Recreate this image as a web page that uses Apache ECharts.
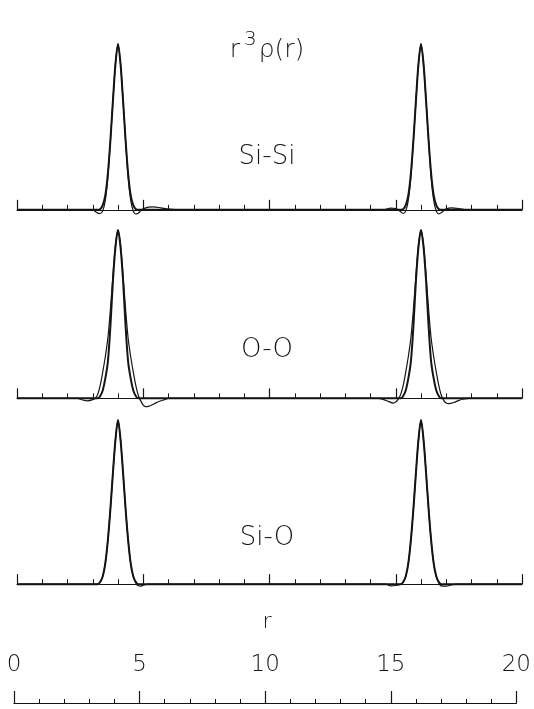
<!DOCTYPE html>
<html>
	<head>
		<meta charset="UTF-8">
		<title>r3 rho(r)</title>
		<script src="https://cdn.jsdelivr.net/npm/echarts/dist/echarts.min.js" type="text/javascript" charset="utf-8"></script>
	</head>
	<body style="margin:0;background:#fff;">
		<div id="chart" style="width:534px;height:709px;"></div>
		<script type="text/javascript">
			// panel names and the r scale labels
			var panelNames = ['Si-Si', 'O-O', 'Si-O'];
			var scaleTicks = [0, 5, 10, 15, 20];

			// Si-Si : smooth curve and the curve with the truncation ripples
			var siSiA = [[0,0],[3.2,0],[3.3,0.005],[3.4,0.03],[3.5,0.09],[3.6,0.22],[3.7,0.42],[3.8,0.66],[3.9,0.88],[4.0,1.0],[4.1,0.88],[4.2,0.66],[4.3,0.42],[4.4,0.22],[4.5,0.09],[4.6,0.03],[4.7,0.005],[4.8,0],
				[15.2,0],[15.3,0.005],[15.4,0.03],[15.5,0.09],[15.6,0.22],[15.7,0.42],[15.8,0.66],[15.9,0.88],[16.0,1.0],[16.1,0.88],[16.2,0.66],[16.3,0.42],[16.4,0.22],[16.5,0.09],[16.6,0.03],[16.7,0.005],[16.8,0],[20,0]];
			var siSiB = [[0,0],[3.0,0],[3.1,-0.01],[3.2,-0.02],[3.3,-0.022],[3.4,-0.005],[3.5,0.06],[3.6,0.2],[3.7,0.42],[3.8,0.66],[3.9,0.88],[4.0,1.0],[4.1,0.88],[4.2,0.66],[4.3,0.42],[4.4,0.2],[4.5,0.06],[4.6,-0.005],[4.7,-0.025],[4.8,-0.02],[4.9,-0.006],[5.0,0.006],[5.2,0.016],[5.4,0.018],[5.7,0.012],[6.0,0.005],[6.4,0],
				[14.5,0],[14.8,0.01],[15.0,0.008],[15.1,0],[15.2,-0.012],[15.3,-0.022],[15.4,-0.005],[15.5,0.06],[15.6,0.2],[15.7,0.42],[15.8,0.66],[15.9,0.88],[16.0,1.0],[16.1,0.88],[16.2,0.66],[16.3,0.42],[16.4,0.2],[16.5,0.06],[16.6,-0.005],[16.7,-0.024],[16.8,-0.018],[16.9,-0.005],[17.0,0.006],[17.2,0.012],[17.5,0.008],[17.8,0],[20,0]];

			// O-O : narrow curve and wide curve
			var ooA = [[0,0],[3.2,0],[3.3,0.015],[3.4,0.05],[3.5,0.12],[3.6,0.22],[3.7,0.43],[3.8,0.7],[3.9,0.9],[4.0,1.0],[4.1,0.9],[4.2,0.7],[4.3,0.43],[4.4,0.22],[4.5,0.12],[4.6,0.05],[4.7,0.015],[4.8,0],
				[15.2,0],[15.3,0.015],[15.4,0.05],[15.5,0.12],[15.6,0.22],[15.7,0.43],[15.8,0.7],[15.9,0.9],[16.0,1.0],[16.1,0.9],[16.2,0.7],[16.3,0.43],[16.4,0.22],[16.5,0.12],[16.6,0.05],[16.7,0.015],[16.8,0],[20,0]];
			var ooB = [[0,0],[2.4,0],[2.6,-0.01],[2.8,-0.015],[3.0,-0.008],[3.1,0],[3.2,0.025],[3.3,0.08],[3.4,0.16],[3.5,0.25],[3.6,0.36],[3.7,0.53],[3.8,0.73],[3.9,0.91],[4.0,1.0],[4.1,0.91],[4.2,0.73],[4.3,0.53],[4.4,0.36],[4.5,0.25],[4.6,0.16],[4.7,0.08],[4.8,0.02],[4.9,-0.015],[5.0,-0.04],[5.1,-0.05],[5.2,-0.048],[5.4,-0.035],[5.6,-0.02],[5.8,-0.01],[6.0,0],
				[14.3,0],[14.5,-0.006],[14.7,-0.018],[14.9,-0.028],[15.0,-0.022],[15.1,-0.005],[15.2,0.025],[15.3,0.08],[15.4,0.16],[15.5,0.25],[15.6,0.36],[15.7,0.53],[15.8,0.73],[15.9,0.91],[16.0,1.0],[16.1,0.91],[16.2,0.73],[16.3,0.53],[16.4,0.36],[16.5,0.25],[16.6,0.16],[16.7,0.08],[16.8,0.02],[16.9,-0.012],[17.0,-0.028],[17.1,-0.032],[17.3,-0.025],[17.5,-0.012],[17.7,-0.004],[17.9,0],[20,0]];

			// Si-O : the two curves nearly coincide
			var siOA = [[0,0],[3.2,0],[3.3,0.015],[3.4,0.05],[3.5,0.13],[3.6,0.27],[3.7,0.46],[3.8,0.68],[3.9,0.88],[4.0,1.0],[4.1,0.88],[4.2,0.68],[4.3,0.46],[4.4,0.27],[4.5,0.13],[4.6,0.05],[4.7,0.015],[4.8,0],
				[15.2,0],[15.3,0.015],[15.4,0.05],[15.5,0.13],[15.6,0.27],[15.7,0.46],[15.8,0.68],[15.9,0.88],[16.0,1.0],[16.1,0.88],[16.2,0.68],[16.3,0.46],[16.4,0.27],[16.5,0.13],[16.6,0.05],[16.7,0.015],[16.8,0],[20,0]];
			var siOB = [[0,0],[3.2,0],[3.3,0.012],[3.4,0.05],[3.5,0.13],[3.6,0.27],[3.7,0.46],[3.8,0.68],[3.9,0.88],[4.0,1.0],[4.1,0.88],[4.2,0.68],[4.3,0.46],[4.4,0.27],[4.5,0.13],[4.6,0.05],[4.7,0.008],[4.8,-0.01],[4.9,-0.012],[5.0,-0.006],[5.2,0],
				[14.6,0],[14.8,-0.01],[15.0,-0.008],[15.2,0],[15.3,0.012],[15.4,0.05],[15.5,0.13],[15.6,0.27],[15.7,0.46],[15.8,0.68],[15.9,0.88],[16.0,1.0],[16.1,0.88],[16.2,0.68],[16.3,0.46],[16.4,0.27],[16.5,0.13],[16.6,0.05],[16.7,0.008],[16.8,-0.01],[17.0,-0.012],[17.2,-0.005],[17.4,0],[20,0]];

			var curves = [[siSiA, siSiB], [ooA, ooB], [siOA, siOB]];

			var ink = '#151515';
			var font = 'DejaVu Sans';
			var light = 200;
			var panelTops = [44, 230, 420];
			var panelHeights = [199, 202, 197];

			var chart = echarts.init(document.getElementById('chart'));

			var grids = [];
			var xAxes = [];
			var yAxes = [];
			var series = [];
			for (var i = 0; i < 3; i++) {
				grids.push({left: 17, right: 12, top: panelTops[i], height: panelHeights[i]});
				xAxes.push({
					type: 'value', gridIndex: i, min: 0, max: 20, interval: 5,
					axisLine: {lineStyle: {color: ink, width: 1.2}},
					axisTick: {inside: true, length: 10, lineStyle: {color: ink, width: 1.2}},
					minorTick: {show: true, splitNumber: 5, length: 5, lineStyle: {color: ink, width: 1}},
					axisLabel: {show: false},
					splitLine: {show: false}
				});
				yAxes.push({type: 'value', gridIndex: i, min: -0.2, max: 1, show: false});
				series.push({
					type: 'line', xAxisIndex: i, yAxisIndex: i, data: curves[i][0],
					showSymbol: false, symbol: 'none', smooth: 0.3,
					lineStyle: {color: ink, width: 2}
				});
				series.push({
					type: 'line', xAxisIndex: i, yAxisIndex: i, data: curves[i][1],
					showSymbol: false, symbol: 'none', smooth: 0.3,
					lineStyle: {color: ink, width: 1.2}
				});
			}

			// r scale at the bottom
			grids.push({left: 14, right: 14, top: 640, bottom: 6});
			xAxes.push({
				type: 'value', gridIndex: 3, min: scaleTicks[0], max: scaleTicks[scaleTicks.length - 1], interval: 5,
				axisLine: {onZero: false, lineStyle: {color: ink, width: 1.2}},
				axisTick: {inside: true, length: 12, lineStyle: {color: ink, width: 1.2}},
				minorTick: {show: true, splitNumber: 5, length: 4, lineStyle: {color: ink, width: 1}},
				axisLabel: {inside: true, margin: 26, fontSize: 23, fontFamily: font, fontWeight: light, color: ink, showMinLabel: true, showMaxLabel: true},
				splitLine: {show: false}
			});
			yAxes.push({type: 'value', gridIndex: 3, min: 0, max: 1, show: false});

			var titles = [{
				text: '{a|r}{b|3}{a|ρ(r)}', left: 'center', top: 28, padding: 0,
				textStyle: {
					fontWeight: light,
					rich: {
						a: {fontSize: 25, fontFamily: font, fontWeight: light, color: ink, padding: [10, 0, 0, 0]},
						b: {fontSize: 20, fontFamily: font, fontWeight: light, color: ink, padding: [0, 2, 12, 4]}
					}
				}
			}];
			var nameTops = [144, 337, 525];
			for (var k = 0; k < panelNames.length; k++) {
				titles.push({text: panelNames[k], left: 'center', top: nameTops[k], padding: 0,
					textStyle: {fontSize: 26, fontWeight: light, fontFamily: font, color: ink}});
			}
			titles.push({text: 'r', left: 'center', top: 611, padding: 0,
				textStyle: {fontSize: 22, fontWeight: light, fontFamily: font, color: ink}});

			chart.setOption({
				animation: false,
				backgroundColor: '#fff',
				title: titles,
				grid: grids,
				xAxis: xAxes,
				yAxis: yAxes,
				series: series
			});
		</script>
	</body>
</html>
